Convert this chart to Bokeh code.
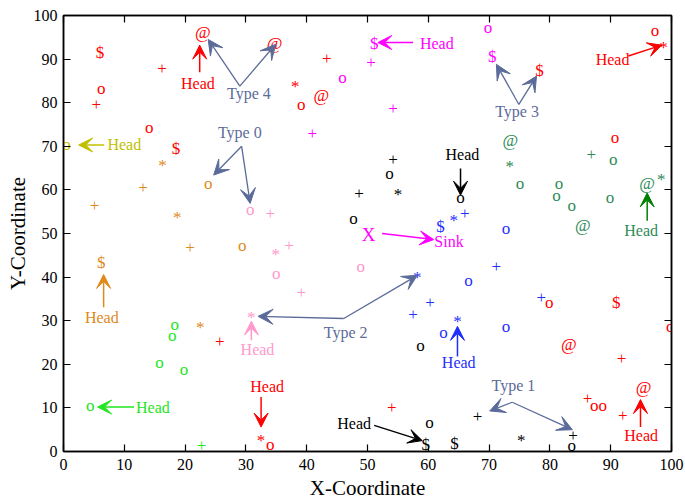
from bokeh.plotting import figure
from bokeh.models import Range1d, LinearAxis, FixedTicker, Arrow, VeeHead, ColumnDataSource, Label
from bokeh.core.properties import value
from bokeh.embed import file_html
from bokeh.resources import INLINE

FONT = "Liberation Serif"

# ---------------- data (marker char, x, y) per colour ----------------
red_m = ["$", "+", "o", "+", "o", "$", "@", "@", "+", "*", "o", "@", "$", "o", "*",
         "o", "o", "$", "o", "@", "+", "+", "o", "o", "+", "@", "*", "o", "+", "+"]
red_x = [6.0, 16.2, 6.2, 5.4, 14.1, 18.5, 22.9, 34.7, 43.3, 38.1, 39.1, 42.4, 78.3, 97.3, 98.7,
         90.7, 79.9, 90.9, 99.8, 83.1, 91.8, 86.2, 87.3, 88.7, 92.0, 95.4, 32.5, 34.0, 25.7, 54.0]
red_y = [91.5, 87.6, 82.7, 79.3, 73.9, 69.5, 95.8, 93.3, 89.8, 84.3, 79.1, 81.5, 87.5, 96.1, 93.3,
         71.6, 33.8, 34.1, 28.2, 24.2, 21.1, 11.9, 10.0, 10.0, 8.0, 14.5, 3.1, 1.1, 25.0, 9.9]

magenta_m = ["$", "+", "o", "+", "+", "o", "$"]
magenta_x = [51.1, 50.6, 45.9, 40.9, 54.2, 69.8, 70.5]
magenta_y = [93.6, 89.0, 85.3, 72.8, 78.5, 96.9, 90.7]

olive_m = ["o"]
olive_x = [0.5]
olive_y = [69.9]

orange_m = ["*", "+", "o", "+", "*", "+", "$", "o", "*"]
orange_x = [16.3, 13.1, 23.8, 5.1, 18.7, 20.8, 6.2, 29.4, 22.5]
orange_y = [66.2, 60.4, 60.9, 56.1, 54.4, 46.5, 43.4, 46.8, 29.2]

pink_m = ["o", "+", "+", "*", "o", "+", "o", "*"]
pink_x = [30.7, 34.0, 37.1, 34.9, 35.0, 39.1, 48.9, 30.9]
pink_y = [55.0, 54.4, 47.1, 45.9, 40.3, 36.3, 41.9, 31.5]

black_m = ["+", "o", "*", "+", "o", "o", "o", "o", "$", "$", "+", "*", "+", "o"]
black_x = [54.2, 53.6, 55.0, 48.6, 47.7, 65.3, 58.7, 60.2, 59.6, 64.3, 68.1, 75.3, 83.8, 83.6]
black_y = [66.8, 63.2, 59.7, 58.9, 53.0, 57.7, 23.8, 6.1, 1.6, 1.9, 7.9, 3.1, 3.5, 1.0]

blue_m = ["$", "*", "+", "o", "+", "o", "*", "+", "+", "o", "*", "o", "+"]
blue_x = [62.0, 64.2, 66.0, 72.8, 71.2, 66.6, 58.2, 60.3, 57.5, 62.5, 64.8, 72.8, 78.6]
blue_y = [51.7, 53.7, 54.4, 50.7, 42.3, 38.7, 40.6, 33.9, 31.1, 26.8, 30.5, 28.2, 35.2]

green_m = ["o", "o", "o", "o", "o", "+"]
green_x = [18.3, 17.9, 15.8, 19.8, 4.4, 22.7]
green_y = [28.7, 26.1, 19.9, 18.4, 10.2, 1.2]

seagreen_m = ["@", "*", "o", "+", "o", "o", "o", "o", "@", "o", "@", "*"]
seagreen_x = [73.5, 73.4, 75.1, 86.8, 90.4, 81.5, 81.1, 83.6, 85.4, 89.9, 96.0, 98.3]
seagreen_y = [71.0, 66.1, 61.1, 67.8, 66.5, 61.1, 58.3, 55.9, 51.5, 57.8, 61.3, 63.1]

sink_m = ["X"]
sink_x = [50.2]
sink_y = [49.8]

tick_values = [0, 10, 20, 30, 40, 50, 60, 70, 80, 90, 100]

# "Type n" labels: text position, arrow vertex, two arrow tips
type_labels = ["Type 4", "Type 0", "Type 3", "Type 2", "Type 1"]
type_tx = [30.5, 29.0, 74.6, 46.4, 74.0]
type_ty = [82.1, 73.1, 77.9, 27.3, 15.2]
type_vx = [29.0, 29.3, 74.9, 46.1, 73.8]
type_vy = [83.8, 70.0, 79.6, 30.5, 11.3]
type_ax = [23.8, 24.7, 71.2, 32.0, 70.1]
type_ay = [94.5, 63.4, 88.8, 31.0, 9.3]
type_bx = [34.9, 30.7, 77.8, 58.2, 83.7]
type_by = [93.4, 56.9, 86.1, 40.4, 5.0]

# "Head" annotations: colour, arrow start, arrow tip, text position
head_col = ["#ff0000", "#ff0000", "#c0c000", "#ff00ff", "#e08a1c", "#ff99cc", "#000000",
            "#1f2fff", "#22e622", "#008000", "#ff0000", "#ff0000", "#000000"]
head_txt_col = ["#ff0000", "#ff0000", "#c0c000", "#ff00ff", "#e08a1c", "#ff99cc", "#000000",
                "#1f2fff", "#22e622", "#2e8b57", "#ff0000", "#ff0000", "#000000"]
head_sx = [22.4, 92.9, 6.7, 57.5, 6.6, 30.9, 65.3, 64.8, 11.6, 96.0, 94.9, 32.5, 51.1]
head_sy = [87.0, 90.7, 70.3, 93.8, 33.1, 25.5, 64.9, 21.8, 10.2, 52.9, 5.6, 12.5, 6.0]
head_ex = [22.4, 98.4, 2.5, 51.7, 6.6, 30.9, 65.3, 64.8, 5.6, 96.0, 94.9, 32.5, 59.0]
head_ey = [93.2, 93.2, 70.3, 93.8, 40.6, 29.9, 58.8, 28.7, 10.2, 59.3, 11.9, 5.6, 2.5]
head_tx = [22.1, 90.3, 10.0, 61.4, 6.3, 31.9, 65.6, 65.0, 14.7, 95.0, 95.0, 33.5, 47.8]
head_ty = [84.5, 89.8, 70.4, 93.6, 30.8, 23.4, 68.2, 20.4, 10.0, 50.6, 3.7, 15.0, 6.5]

# Sink annotation
sink_label = "Sink"
sink_arrow = [52.4, 50.0, 60.9, 48.6]
sink_text_xy = [63.4, 48.2]

# ---------------- figure ----------------
p = figure(width=685, height=502, x_range=Range1d(0, 100), y_range=Range1d(0, 100),
           toolbar_location=None, output_backend="svg",
           min_border_left=63, min_border_right=14, min_border_top=15, min_border_bottom=51)
p.xgrid.visible = False
p.ygrid.visible = False
p.outline_line_color = "black"
p.outline_line_width = 1.5
p.background_fill_color = "white"
p.border_fill_color = "white"

ticker = FixedTicker(ticks=tick_values)
for ax in (p.xaxis[0], p.yaxis[0]):
    ax.ticker = ticker
    ax.major_tick_in = 7
    ax.major_tick_out = 0
    ax.minor_tick_line_color = None
    ax.axis_line_color = "black"
    ax.axis_line_width = 1.5
    ax.major_tick_line_width = 1.2
    ax.major_label_text_font = FONT
    ax.major_label_text_font_size = "16px"
    ax.major_label_text_color = "black"
    ax.axis_label_text_font = FONT
    ax.axis_label_text_font_size = "21px"
    ax.axis_label_text_font_style = "normal"
    ax.axis_label_text_color = "black"
p.xaxis.axis_label = "X-Coordinate"
p.yaxis.axis_label = "Y-Coordinate"
p.xaxis.major_label_standoff = 7
p.yaxis.major_label_standoff = 6
p.xaxis.axis_label_standoff = 3
p.yaxis.axis_label_standoff = 1

for side in ("above", "right"):
    ax = LinearAxis(ticker=FixedTicker(ticks=tick_values),
                    major_label_overrides={v: "" for v in tick_values})
    ax.major_tick_in = 7
    ax.major_tick_out = 0
    ax.minor_tick_line_color = None
    ax.axis_line_width = 1.5
    ax.major_tick_line_width = 1.2
    ax.major_label_text_font_size = "1px"
    p.add_layout(ax, side)

# offsets (px) to centre the visual glyph on the data point
glyph_dy = {"o": -2, "+": -1, "*": 3, "$": 0, "@": -1, "X": 0}


def markers(ms, xs, ys, color, size="17px"):
    src = ColumnDataSource(dict(x=xs, y=ys, t=ms, dy=[glyph_dy.get(m, 0) for m in ms]))
    p.text("x", "y", text="t", source=src, text_color=color, text_font=value(FONT),
           text_font_size=size, text_align="center", text_baseline="middle", y_offset="dy")


markers(red_m, red_x, red_y, "#ff0000")
markers(magenta_m, magenta_x, magenta_y, "#ff00ff")
markers(olive_m, olive_x, olive_y, "#c0c000")
markers(orange_m, orange_x, orange_y, "#e08a1c")
markers(pink_m, pink_x, pink_y, "#ff99cc")
markers(black_m, black_x, black_y, "#000000")
markers(blue_m, blue_x, blue_y, "#1f2fff")
markers(green_m, green_x, green_y, "#22e622")
markers(seagreen_m, seagreen_x, seagreen_y, "#2e8b57")
markers(sink_m, sink_x, sink_y, "#ff00ff", size="19px")

# Type annotations
TYPE_COL = "#5b6b99"
for i in range(len(type_labels)):
    for tx, ty in ((type_ax[i], type_ay[i]), (type_bx[i], type_by[i])):
        p.add_layout(Arrow(end=VeeHead(size=15, fill_color=TYPE_COL, line_color=TYPE_COL),
                           x_start=type_vx[i], y_start=type_vy[i], x_end=tx, y_end=ty,
                           line_color=TYPE_COL, line_width=1.3))
    p.add_layout(Label(x=type_tx[i], y=type_ty[i], text=type_labels[i], text_color=TYPE_COL,
                       text_font=FONT, text_font_size="16px", text_align="center",
                       text_baseline="middle"))

# Head annotations
for i in range(len(head_col)):
    c = head_col[i]
    p.add_layout(Arrow(end=VeeHead(size=14, fill_color=c, line_color=c),
                       x_start=head_sx[i], y_start=head_sy[i], x_end=head_ex[i], y_end=head_ey[i],
                       line_color=c, line_width=1.5))
    p.add_layout(Label(x=head_tx[i], y=head_ty[i], text="Head", text_color=head_txt_col[i],
                       text_font=FONT, text_font_size="16px", text_align="center",
                       text_baseline="middle"))

# Sink annotation
p.add_layout(Arrow(end=VeeHead(size=14, fill_color="#ff00ff", line_color="#ff00ff"),
                   x_start=sink_arrow[0], y_start=sink_arrow[1], x_end=sink_arrow[2], y_end=sink_arrow[3],
                   line_color="#ff00ff", line_width=1.5))
p.add_layout(Label(x=sink_text_xy[0], y=sink_text_xy[1], text=sink_label, text_color="#ff00ff",
                   text_font=FONT, text_font_size="16px", text_align="center", text_baseline="middle"))

open("out.html", "w").write(file_html(p, INLINE))
